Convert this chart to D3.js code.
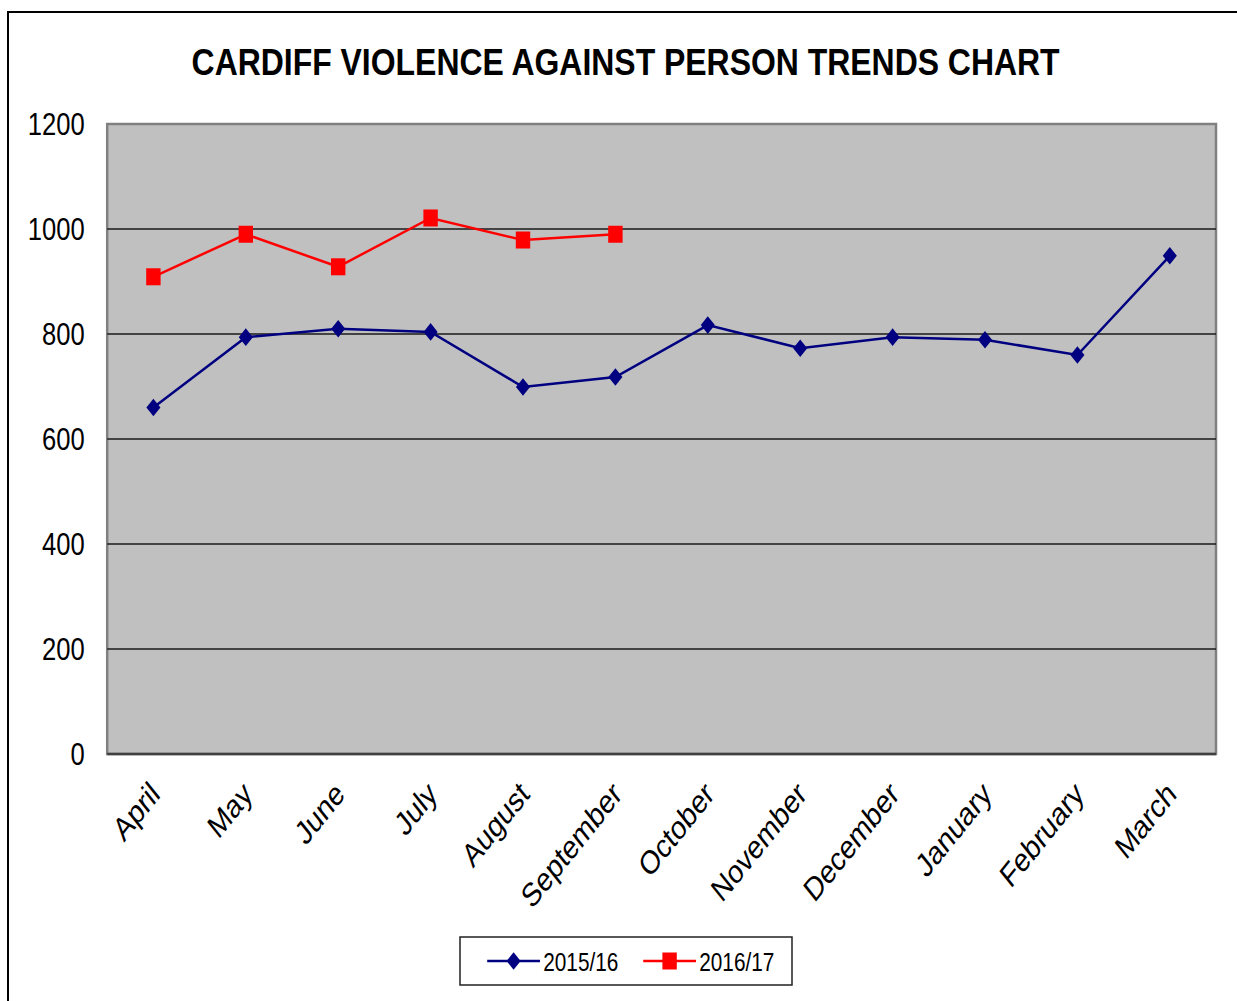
<!DOCTYPE html>
<html>
<head>
<meta charset="utf-8">
<script src="https://cdn.jsdelivr.net/npm/d3@7"></script>
<style>
  html, body { margin: 0; padding: 0; background: #fff; }
  svg { display: block; }
  text { font-family: "Liberation Sans", Arial, sans-serif; fill: #000; }
</style>
</head>
<body>
<div id="chart"></div>
<script>
// data
const months = ["April", "May", "June", "July", "August", "September",
                "October", "November", "December", "January", "February", "March"];
const seriesNames = ["2015/16", "2016/17"];
const values1516 = [660, 794, 810, 804, 699, 718, 817, 773, 794, 789, 760, 949];
const values1617 = [909, 990, 928, 1021, 979, 990];
const yTicks = [0, 200, 400, 600, 800, 1000, 1200];

// the original picture is squashed horizontally, so draw in a wider
// coordinate space and let the viewBox squeeze it
const W = 1237, H = 1001, sx = 0.8;
const VW = W / sx;

const svg = d3.select("#chart").append("svg")
    .attr("width", W).attr("height", H)
    .attr("viewBox", `0 0 ${VW} ${H}`)
    .attr("preserveAspectRatio", "none");

// outer chart border
svg.append("rect")
    .attr("x", 10).attr("y", 12)
    .attr("width", VW + 20).attr("height", H + 20)
    .attr("fill", "none").attr("stroke", "#000").attr("stroke-width", 2)
    .attr("vector-effect", "non-scaling-stroke");

// title
svg.append("text")
    .attr("x", 782).attr("y", 75)
    .attr("text-anchor", "middle")
    .attr("textLength", 1085).attr("lengthAdjust", "spacingAndGlyphs")
    .style("font-size", "37px").style("font-weight", "bold")
    .text("CARDIFF VIOLENCE AGAINST PERSON TRENDS CHART");

const plot = {left: 134, right: 1520, top: 124, bottom: 754};

const x = d3.scaleBand().domain(months).range([plot.left, plot.right]);
const y = d3.scaleLinear().domain([0, 1200]).range([plot.bottom, plot.top]);
const cx = m => x(m) + x.bandwidth() / 2;

// plot area
svg.append("rect")
    .attr("x", plot.left).attr("y", plot.top)
    .attr("width", plot.right - plot.left).attr("height", plot.bottom - plot.top)
    .attr("fill", "#c0c0c0").attr("stroke", "#808080").attr("stroke-width", 2.5)
    .attr("vector-effect", "non-scaling-stroke");

// gridlines
svg.selectAll(".grid")
    .data(yTicks.filter(t => t > 0 && t < 1200))
    .enter().append("line")
    .attr("x1", plot.left).attr("x2", plot.right)
    .attr("y1", d => y(d)).attr("y2", d => y(d))
    .attr("stroke", "#1a1a1a").attr("stroke-width", 1.5)
    .attr("vector-effect", "non-scaling-stroke");

// bottom axis line
svg.append("line")
    .attr("x1", plot.left).attr("x2", plot.right)
    .attr("y1", y(0)).attr("y2", y(0))
    .attr("stroke", "#404040").attr("stroke-width", 2.5)
    .attr("vector-effect", "non-scaling-stroke");

// y labels
const yAxis = d3.axisLeft(y).tickValues(yTicks).tickFormat(d3.format("d")).tickSize(0).tickPadding(28);
const gy = svg.append("g").attr("transform", `translate(${plot.left},0)`).call(yAxis);
gy.select(".domain").remove();
gy.selectAll("text")
    .style("font-size", "32px")
    .style("font-family", "'Liberation Sans', Arial, sans-serif")
    .attr("fill", "#000");

// x labels, rotated
svg.selectAll(".xlab")
    .data(months)
    .enter().append("text")
    .attr("text-anchor", "end")
    .attr("transform", d => `translate(${cx(d) + 10},${plot.bottom + 42}) rotate(-45)`)
    .style("font-size", "33px")
    .text(d => d);

// lines
const line = d3.line().x((d, i) => cx(months[i])).y(d => y(d));
const series = [
    {name: seriesNames[0], values: values1516, color: "#000080", marker: "diamond"},
    {name: seriesNames[1], values: values1617, color: "#ff0000", marker: "square"}
];

const diamond = (px, py, r) => `M${px},${py - r * 1.1}L${px + r * 1.1},${py}L${px},${py + r * 1.1}L${px - r * 1.1},${py}Z`;

function drawMarker(g, kind, px, py, color) {
    if (kind === "square") {
        g.append("rect")
            .attr("x", px - 9).attr("y", py - 8.5)
            .attr("width", 18).attr("height", 17)
            .attr("fill", color);
    } else {
        g.append("path").attr("d", diamond(px, py, 8)).attr("fill", color);
    }
}

series.forEach(s => {
    svg.append("path")
        .datum(s.values)
        .attr("d", line)
        .attr("fill", "none")
        .attr("stroke", s.color)
        .attr("stroke-width", 2.5)
        .attr("vector-effect", "non-scaling-stroke");
    const g = svg.append("g");
    s.values.forEach((v, i) => drawMarker(g, s.marker, cx(months[i]), y(v), s.color));
});

// legend
const legend = svg.append("g");
legend.append("rect")
    .attr("x", 575).attr("y", 937)
    .attr("width", 415).attr("height", 48)
    .attr("fill", "#fff").attr("stroke", "#222").attr("stroke-width", 1.5)
    .attr("vector-effect", "non-scaling-stroke");

const legendX = [609, 804];
series.forEach((s, i) => {
    const lx = legendX[i], ly = 961;
    legend.append("line")
        .attr("x1", lx).attr("x2", lx + 66)
        .attr("y1", ly).attr("y2", ly)
        .attr("stroke", s.color).attr("stroke-width", 2.5)
        .attr("vector-effect", "non-scaling-stroke");
    drawMarker(legend, s.marker, lx + 33, ly, s.color);
    legend.append("text")
        .attr("x", lx + 70).attr("y", ly + 10)
        .style("font-size", "26px")
        .text(s.name);
});
</script>
</body>
</html>
